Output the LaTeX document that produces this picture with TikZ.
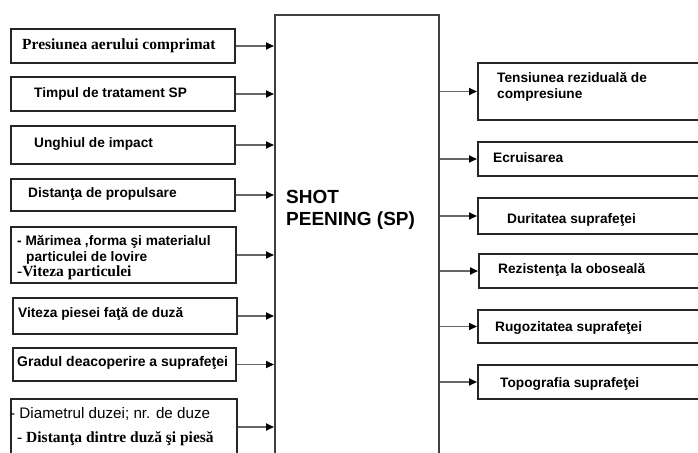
\documentclass[tikz,border=0pt]{standalone}
\usepackage{fontspec}
\setmainfont{Liberation Serif}
\setsansfont{Liberation Sans}
\usetikzlibrary{arrows.meta}
\tikzset{
  box/.style={draw=black!85, line width=2pt, anchor=north west, inner sep=0pt, fill=white},
  cbox/.style={draw=black!75, line width=2pt, anchor=north west, inner sep=0pt, fill=white},
  txt/.style={anchor=base west, inner sep=0pt, font=\sffamily\bfseries\fontsize{13.7}{15}\selectfont},
  txtg/.style={anchor=base west, inner sep=0pt, font=\sffamily\bfseries\fontsize{14}{15}\selectfont},
  txtr/.style={anchor=base west, inner sep=0pt, font=\sffamily\fontsize{15.2}{17}\selectfont},
  txts/.style={anchor=base west, inner sep=0pt, font=\rmfamily\bfseries\fontsize{15.5}{17}\selectfont},
  txtc/.style={anchor=base west, inner sep=0pt, font=\sffamily\bfseries\fontsize{19}{22}\selectfont},
  arr/.style={draw=black!60, line width=1.7pt, -{Triangle[length=8pt,width=7pt,color=black]}}
}
\begin{document}
\begin{tikzpicture}[x=1pt,y=-1pt]
\useasboundingbox (0,0) rectangle (698,452);
\fill[white] (0,0) rectangle (698,452);
% center box
\node[cbox, minimum width=164pt, minimum height=446pt] (C) at (274,14) {};
% left boxes
\node[box, minimum width=224pt, minimum height=34pt] (L1) at (10,28) {};
\node[box, minimum width=224pt, minimum height=34pt] (L2) at (10,76) {};
\node[box, minimum width=224pt, minimum height=38pt] (L3) at (10,125) {};
\node[box, minimum width=224pt, minimum height=32pt] (L4) at (10,178) {};
\node[box, minimum width=225pt, minimum height=56pt] (L5) at (10,226) {};
\node[box, minimum width=224pt, minimum height=36pt] (L6) at (12,297) {};
\node[box, minimum width=223pt, minimum height=33pt] (L7) at (12,347) {};
\node[box, minimum width=226pt, minimum height=56pt] (L8) at (10,398) {};
% right boxes
\node[box, minimum width=240pt, minimum height=57pt] (R1) at (477,62) {};
\node[box, minimum width=240pt, minimum height=34pt] (R2) at (477,141) {};
\node[box, minimum width=240pt, minimum height=36pt] (R3) at (477,197) {};
\node[box, minimum width=240pt, minimum height=34pt] (R4) at (478,253) {};
\node[box, minimum width=240pt, minimum height=33pt] (R5) at (477,309) {};
\node[box, minimum width=240pt, minimum height=34pt] (R6) at (477,364) {};
% arrows in
\foreach \n in {L1,L2,L3,L4,L5,L6,L7,L8}
  \draw[arr] (\n.east) -- (\n.east -| C.west);
% arrows out
\foreach \n in {R1,R2,R3,R4,R5,R6}
  \draw[arr] (\n.west -| C.east) -- (\n.west);
% left texts
\node[txts] (t1) at (22,50) {Presiunea aerului comprimat};
\node[txt] (t2) at (34,97) {Timpul de tratament SP};
\node[txt] (t3) at (34,147) {Unghiul de impact};
\node[txt] (t4) at (28,197) {Distanţa de propulsare};
\node[txt] (t5a) at (17,245) {- Mărimea ,forma şi materialul};
\node[txt] (t5b) at (26,261) {particulei de lovire};
\node[txts] (t5c) at (17,276) {-Viteza particulei};
\node[txt] (t6) at (18,317) {Viteza piesei faţă de duză};
\node[txtg] (t7) at (17,366) {Gradul deacoperire a suprafeţei};
\node[txtr] (t8a) at (10,418) {- Diametrul duzei; nr. de duze};
\node[txts] (t8b) at (17,442) {- Distanţa dintre duză şi piesă};
% center text
\node[txtc] (c1) at (286,203) {SHOT};
\node[txtc] (c2) at (286,225) {PEENING (SP)};
% right texts
\node[txt] (r1a) at (497,82) {Tensiunea reziduală de};
\node[txt] (r1b) at (497,98) {compresiune};
\node[txt] (r2) at (493,162) {Ecruisarea};
\node[txt] (r3) at (507,223) {Duritatea suprafeţei};
\node[txt] (r4) at (498,273) {Rezistenţa la oboseală};
\node[txt] (r5) at (495,331) {Rugozitatea suprafeţei};
\node[txt] (r6) at (500,387) {Topografia suprafeţei};
\end{tikzpicture}
\end{document}
